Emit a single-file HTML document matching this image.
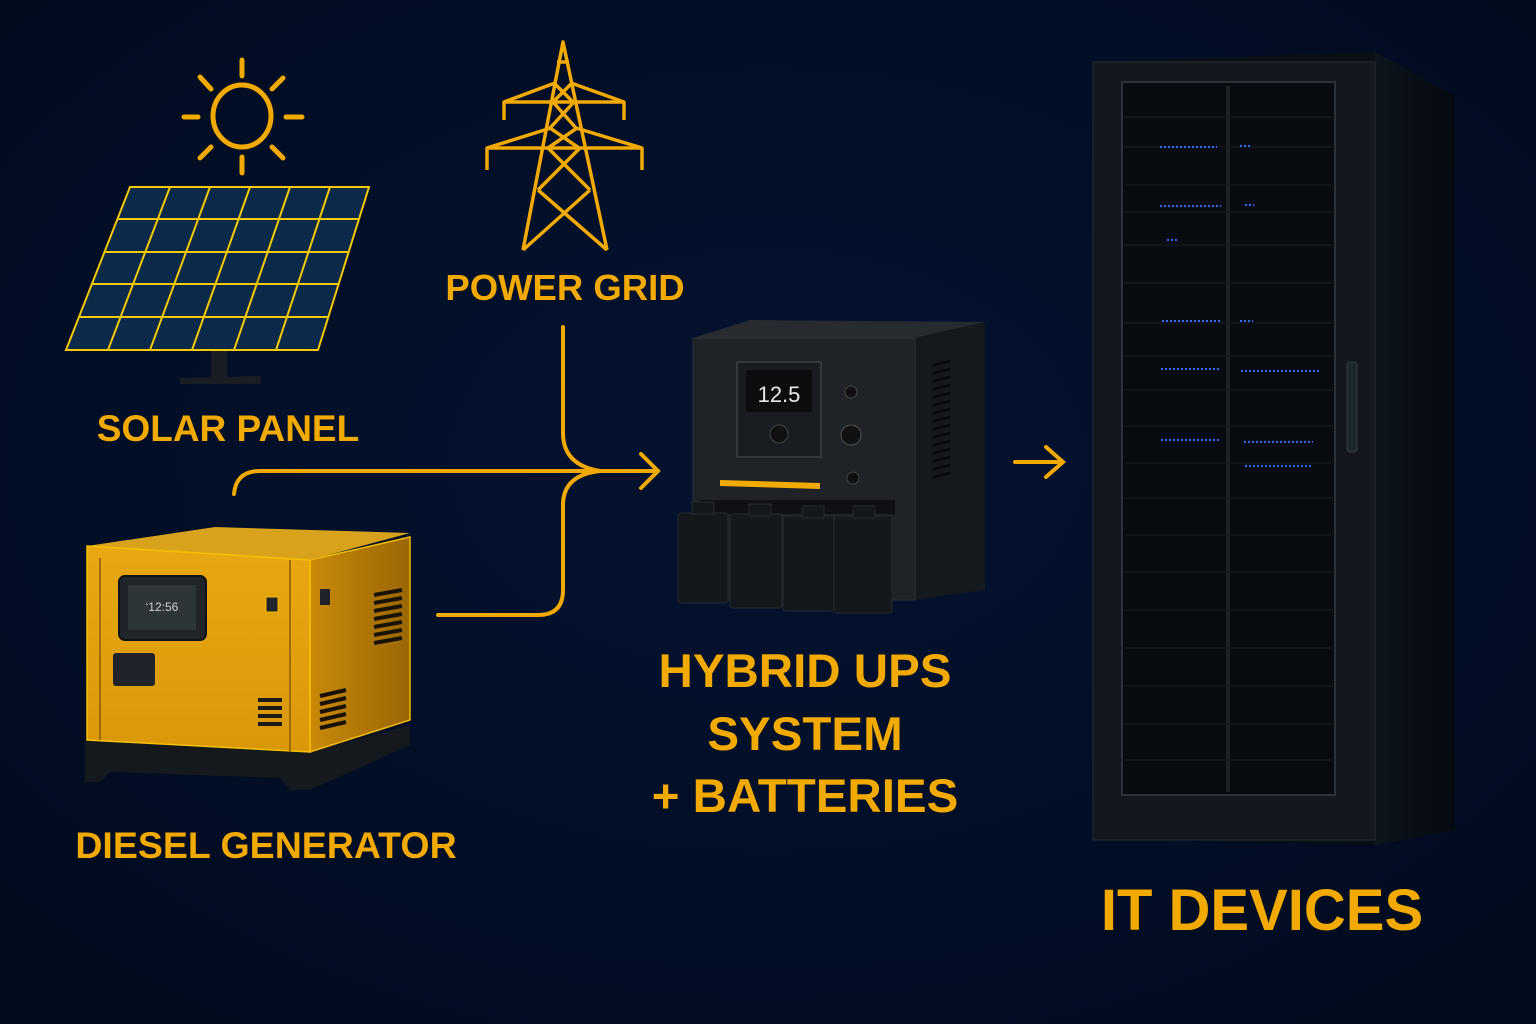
<!DOCTYPE html>
<html><head><meta charset="utf-8"><style>
html,body{margin:0;padding:0;background:#020d22;}
svg{display:block}
text{font-family:"Liberation Sans",sans-serif;font-weight:bold;fill:#f2a900}
</style></head><body>
<svg width="1536" height="1024" viewBox="0 0 1536 1024" xmlns="http://www.w3.org/2000/svg">
<defs>
<radialGradient id="bg" cx="50%" cy="45%" r="70%"><stop offset="0" stop-color="#041331"/><stop offset="1" stop-color="#010b1e"/></radialGradient>
<linearGradient id="genf" x1="0" y1="0" x2="0" y2="1"><stop offset="0" stop-color="#e8a812"/><stop offset="1" stop-color="#d9980a"/></linearGradient>
<linearGradient id="gens" x1="0" y1="0" x2="1" y2="0"><stop offset="0" stop-color="#c98a08"/><stop offset="1" stop-color="#9a6606"/></linearGradient>
<linearGradient id="rackside" x1="0" y1="0" x2="1" y2="0"><stop offset="0" stop-color="#0e151d"/><stop offset="1" stop-color="#050910"/></linearGradient>
</defs>
<rect width="1536" height="1024" fill="url(#bg)"/>

<!-- Sun -->
<g stroke="#f2a900" stroke-width="5" fill="none" stroke-linecap="round">
<ellipse cx="242" cy="116" rx="29" ry="31"/>
<line x1="242" y1="60" x2="242" y2="76"/><line x1="242" y1="157" x2="242" y2="173"/>
<line x1="184" y1="117" x2="198" y2="117"/><line x1="286" y1="117" x2="302" y2="117"/>
<line x1="200" y1="77" x2="211" y2="89"/><line x1="272" y1="89" x2="283" y2="78"/>
<line x1="200" y1="158" x2="211" y2="147"/><line x1="272" y1="147" x2="283" y2="158"/>
</g>

<!-- Solar panel -->
<rect x="211" y="350" width="16" height="30" fill="#1a1e24"/>
<polygon points="180,378 261,376 261,384 180,384" fill="#1a1e24"/>
<polygon points="130,187 369,187 318,350 66,350" fill="#0b2a4a" stroke="#f5c800" stroke-width="2"/>
<g stroke="#f5c800" stroke-width="2">
<line x1="117" y1="219" x2="359" y2="219"/>
<line x1="104" y1="252" x2="349" y2="252"/>
<line x1="91" y1="284" x2="339" y2="284"/>
<line x1="78" y1="317" x2="328" y2="317"/>
<line x1="170" y1="187" x2="108" y2="350"/>
<line x1="210" y1="187" x2="150" y2="350"/>
<line x1="250" y1="187" x2="192" y2="350"/>
<line x1="290" y1="187" x2="234" y2="350"/>
<line x1="330" y1="187" x2="276" y2="350"/>
</g>

<!-- Pylon -->
<g stroke="#f2a900" stroke-width="3.5" fill="none" stroke-linejoin="round">
<polyline points="523,250 563,42 607,250"/>
<line x1="504" y1="102" x2="624" y2="102"/>
<polyline points="504,120 504,102 555,83"/><polyline points="624,120 624,102 571,83"/>
<line x1="487" y1="148" x2="642" y2="148"/>
<polyline points="487,170 487,148 551,128"/><polyline points="642,170 642,148 576,128"/>
<line x1="554" y1="83" x2="573" y2="102"/><line x1="572" y1="83" x2="553" y2="102"/>
<line x1="553" y1="102" x2="576" y2="128"/><line x1="574" y1="102" x2="550" y2="128"/>
<line x1="550" y1="128" x2="579" y2="148"/><line x1="577" y1="128" x2="548" y2="148"/>
<line x1="548" y1="148" x2="590" y2="190"/><line x1="580" y1="148" x2="538" y2="190"/>
<line x1="538" y1="190" x2="607" y2="250"/><line x1="590" y1="190" x2="523" y2="250"/>
<line x1="557" y1="62" x2="569" y2="62"/>
</g>

<!-- Connectors -->
<g stroke="#f2a900" stroke-width="4" fill="none" stroke-linecap="round">
<path d="M563,327 L563,433 Q563,465 600,471"/>
<path d="M234,494 Q236,471 260,471 L658,471"/>
<path d="M438,615 L538,615 Q563,615 563,590 L563,505 Q563,475 600,471"/>
<polyline points="641,454 658,471 641,488"/>
<line x1="1015" y1="462" x2="1062" y2="462"/>
<polyline points="1046,447 1063,462 1046,477"/>
</g>

<!-- Generator -->
<polygon points="85,740 310,752 410,725 410,745 310,790 290,790 280,778 110,772 100,782 85,782" fill="#15181c"/>
<polygon points="310,560 410,537 410,720 310,752" fill="url(#gens)" stroke="#f2b800" stroke-width="1.5"/>
<polygon points="87,546 215,527 410,533 310,560" fill="#d9a21c"/>
<polygon points="87,546 310,560 310,752 87,740" fill="url(#genf)" stroke="#f5c000" stroke-width="1.5"/>
<line x1="100" y1="558" x2="100" y2="740" stroke="#8a5a00" stroke-width="1.5"/>
<line x1="290" y1="560" x2="290" y2="752" stroke="#8a5a00" stroke-width="1.5"/>
<rect x="119" y="576" width="87" height="64" rx="6" fill="#20242a" stroke="#101214" stroke-width="2"/>
<rect x="128" y="585" width="68" height="45" fill="#2e3538"/>
<text x="162" y="611" font-size="12" text-anchor="middle" style="fill:#d0d0d0;font-weight:normal">‘12:56</text>
<rect x="113" y="653" width="42" height="33" rx="3" fill="#20242a"/>
<rect x="266" y="597" width="12" height="15" fill="#20242a" stroke="#f2b800"/>
<rect x="320" y="589" width="10" height="16" fill="#20242a"/>
<g fill="#1a1a1a"><rect x="258" y="698" width="24" height="4"/><rect x="258" y="706" width="24" height="4"/><rect x="258" y="714" width="24" height="4"/><rect x="258" y="722" width="24" height="4"/></g>
<g stroke="#1a1208" stroke-width="4"><line x1="374" y1="595" x2="402" y2="590"/><line x1="374" y1="603" x2="402" y2="598"/><line x1="374" y1="611" x2="402" y2="606"/><line x1="374" y1="619" x2="402" y2="614"/><line x1="374" y1="627" x2="402" y2="622"/><line x1="374" y1="635" x2="402" y2="630"/><line x1="374" y1="643" x2="402" y2="638"/>
<line x1="320" y1="696" x2="346" y2="690"/><line x1="320" y1="704" x2="346" y2="698"/><line x1="320" y1="712" x2="346" y2="706"/><line x1="320" y1="720" x2="346" y2="714"/><line x1="320" y1="728" x2="346" y2="722"/></g>

<!-- UPS -->
<polygon points="693,338 750,320 985,322 915,338" fill="#272b30"/>
<polygon points="915,338 985,322 985,590 915,600" fill="#15181c"/>
<rect x="693" y="338" width="222" height="262" fill="#1f2327" stroke="#2c3238"/>
<g stroke="#080a0c" stroke-width="2.5"><line x1="933" y1="365" x2="950" y2="361"/><line x1="933" y1="373" x2="950" y2="369"/><line x1="933" y1="381" x2="950" y2="377"/><line x1="933" y1="389" x2="950" y2="385"/><line x1="933" y1="397" x2="950" y2="393"/><line x1="933" y1="405" x2="950" y2="401"/><line x1="933" y1="413" x2="950" y2="409"/><line x1="933" y1="421" x2="950" y2="417"/><line x1="933" y1="429" x2="950" y2="425"/><line x1="933" y1="437" x2="950" y2="433"/><line x1="933" y1="445" x2="950" y2="441"/><line x1="933" y1="453" x2="950" y2="449"/><line x1="933" y1="461" x2="950" y2="457"/><line x1="933" y1="469" x2="950" y2="465"/><line x1="933" y1="477" x2="950" y2="473"/></g>
<rect x="737" y="362" width="84" height="95" fill="#191c20" stroke="#33383e" stroke-width="2"/>
<rect x="746" y="370" width="66" height="42" fill="#0b0d0f"/>
<text x="779" y="402" font-size="22" text-anchor="middle" style="fill:#e8e8e8;font-weight:normal">12.5</text>
<circle cx="779" cy="434" r="9" fill="#111" stroke="#444"/>
<circle cx="851" cy="392" r="6" fill="#111" stroke="#444"/>
<circle cx="851" cy="435" r="10" fill="#111" stroke="#555"/>
<circle cx="853" cy="478" r="6" fill="#111" stroke="#444"/>
<polygon points="720,480 820,483 820,489 720,486" fill="#f2a900"/>
<rect x="700" y="500" width="195" height="14" fill="#0e1013"/>
<g fill="#15181b" stroke="#262a2f">
<rect x="678" y="513" width="50" height="90" rx="3"/><rect x="730" y="514" width="52" height="94" rx="3"/><rect x="783" y="516" width="52" height="95" rx="3"/><rect x="834" y="516" width="58" height="97" rx="3"/>
<rect x="692" y="502" width="22" height="12"/><rect x="749" y="504" width="22" height="12"/><rect x="802" y="506" width="22" height="12"/><rect x="853" y="506" width="22" height="12"/>
</g>

<!-- Rack -->
<polygon points="1093,62 1375,52 1455,96 1455,830 1375,845 1093,838" fill="#0a0f16"/>
<polygon points="1375,52 1455,96 1455,830 1375,845" fill="url(#rackside)"/>
<rect x="1093" y="62" width="282" height="778" fill="#14181e" stroke="#262c34"/>
<rect x="1122" y="82" width="213" height="713" fill="#080b10" stroke="#2c323a" stroke-width="2"/>
<line x1="1228" y1="86" x2="1228" y2="792" stroke="#1c2128" stroke-width="4"/>
<g stroke="#131920" stroke-width="1.5">
<line x1="1125" y1="117" x2="1333" y2="117"/><line x1="1125" y1="147" x2="1333" y2="147"/><line x1="1125" y1="185" x2="1333" y2="185"/><line x1="1125" y1="212" x2="1333" y2="212"/><line x1="1125" y1="245" x2="1333" y2="245"/><line x1="1125" y1="283" x2="1333" y2="283"/><line x1="1125" y1="323" x2="1333" y2="323"/><line x1="1125" y1="356" x2="1333" y2="356"/><line x1="1125" y1="390" x2="1333" y2="390"/><line x1="1125" y1="426" x2="1333" y2="426"/><line x1="1125" y1="463" x2="1333" y2="463"/><line x1="1125" y1="498" x2="1333" y2="498"/><line x1="1125" y1="535" x2="1333" y2="535"/><line x1="1125" y1="572" x2="1333" y2="572"/><line x1="1125" y1="610" x2="1333" y2="610"/><line x1="1125" y1="648" x2="1333" y2="648"/><line x1="1125" y1="686" x2="1333" y2="686"/><line x1="1125" y1="724" x2="1333" y2="724"/><line x1="1125" y1="760" x2="1333" y2="760"/>
</g>
<g stroke="#2a6cff" stroke-width="2" stroke-dasharray="2,2">
<line x1="1160" y1="147" x2="1217" y2="147"/><line x1="1240" y1="146" x2="1252" y2="146"/>
<line x1="1160" y1="206" x2="1221" y2="206"/><line x1="1245" y1="205" x2="1254" y2="205"/>
<line x1="1167" y1="240" x2="1178" y2="240"/>
<line x1="1162" y1="321" x2="1222" y2="321"/><line x1="1240" y1="321" x2="1253" y2="321"/>
<line x1="1161" y1="369" x2="1221" y2="369"/><line x1="1241" y1="371" x2="1320" y2="371"/>
<line x1="1161" y1="440" x2="1219" y2="440"/><line x1="1244" y1="442" x2="1313" y2="442"/>
<line x1="1245" y1="466" x2="1312" y2="466"/>
</g>
<rect x="1347" y="362" width="10" height="90" rx="3" fill="#20262e" stroke="#333a44"/>

<!-- Labels -->
<text x="565" y="300" font-size="36.5" text-anchor="middle">POWER GRID</text>
<text x="228" y="441" font-size="37" text-anchor="middle">SOLAR PANEL</text>
<text x="266" y="858" font-size="37.5" text-anchor="middle">DIESEL GENERATOR</text>
<text x="805" y="687" font-size="47.5" text-anchor="middle">HYBRID UPS</text>
<text x="805" y="750" font-size="47.5" text-anchor="middle">SYSTEM</text>
<text x="805" y="812" font-size="47.5" text-anchor="middle">+ BATTERIES</text>
<text x="1262" y="930" font-size="58" text-anchor="middle">IT DEVICES</text>
</svg>
</body></html>
